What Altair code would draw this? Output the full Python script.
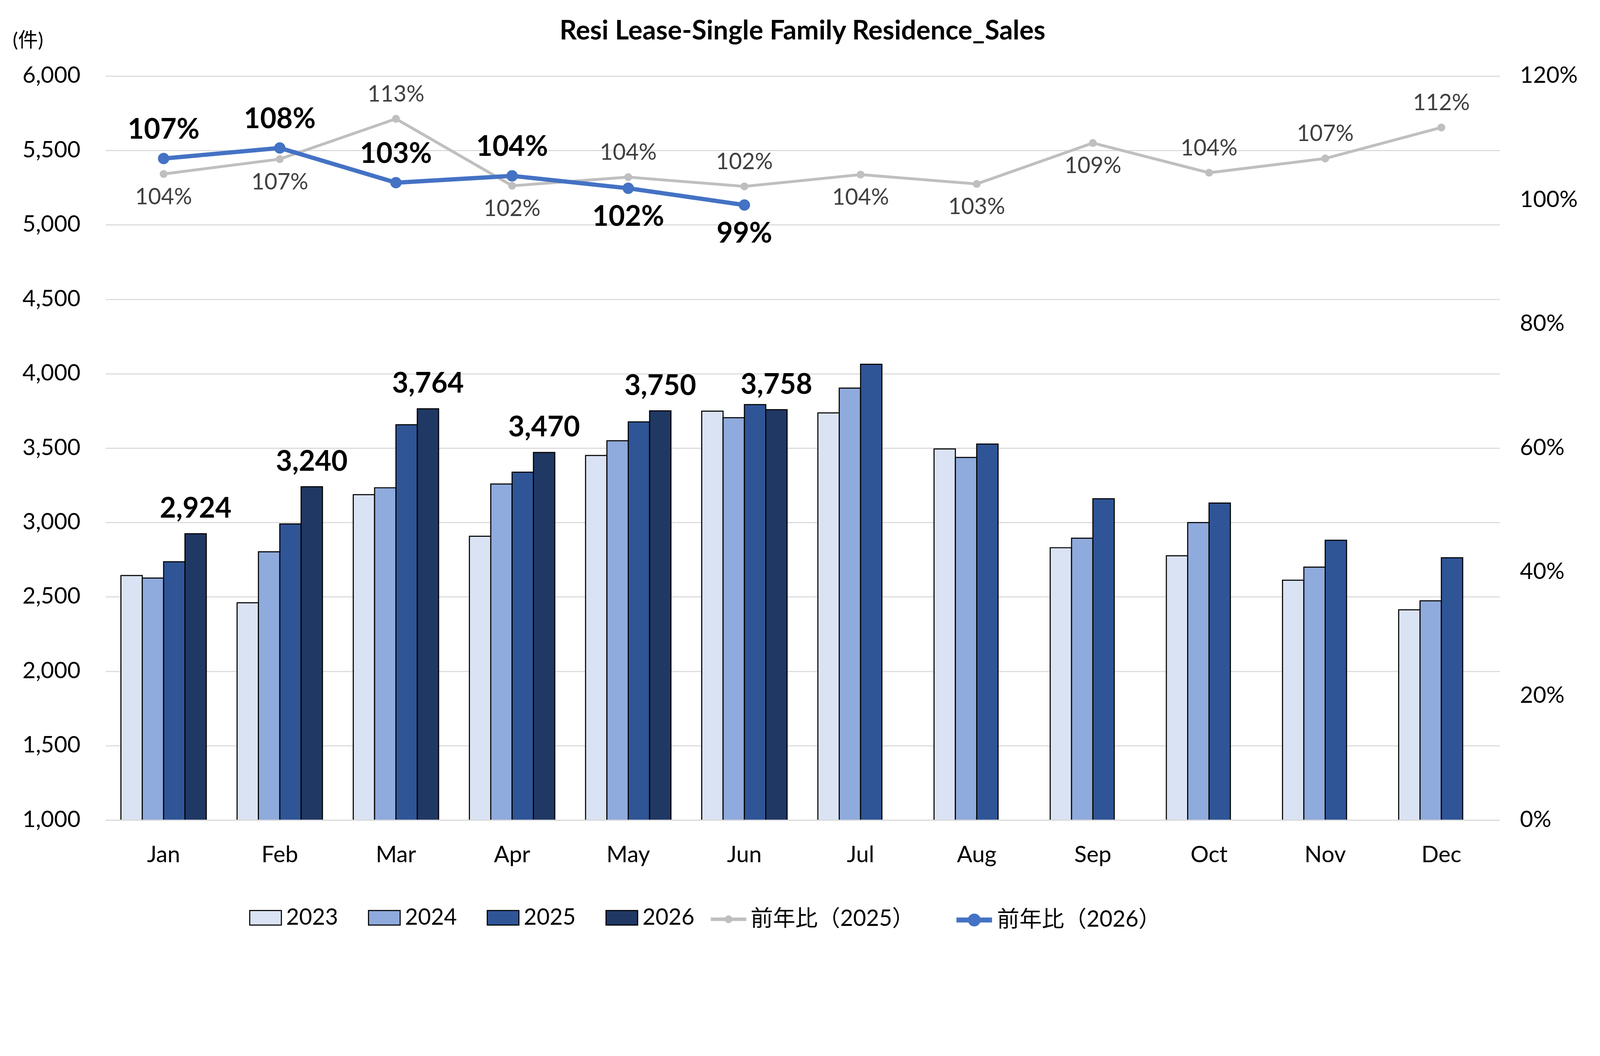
import json

import altair as alt
import pandas as pd

# Values
months = ["Jan", "Feb", "Mar", "Apr", "May", "Jun", "Jul", "Aug", "Sep", "Oct", "Nov", "Dec"]
years = ["2023", "2024", "2025", "2026"]
sales_2023 = [2643, 2460, 3187, 2907, 3450, 3748, 3736, 3494, 2830, 2776, 2612, 2413]
sales_2024 = [2626, 2803, 3233, 3258, 3549, 3704, 3903, 3437, 2894, 2999, 2700, 2473]
sales_2025 = [2736, 2990, 3657, 3338, 3676, 3792, 4063, 3527, 3159, 3130, 2880, 2763]
sales_2026 = [2924, 3240, 3764, 3470, 3750, 3758]
series_names = ["前年比（2025）", "前年比（2026）"]
yoy_2025 = [1.042, 1.066, 1.131, 1.023, 1.037, 1.022, 1.041, 1.026, 1.092, 1.044, 1.067, 1.117]
yoy_2026 = [1.067, 1.084, 1.028, 1.039, 1.019, 0.992]

# which point labels sit above their marker (the rest sit below)
gray_labels_above = ["Mar", "May", "Jun", "Oct", "Nov", "Dec"]
blue_labels_above = ["Jan", "Feb", "Mar", "Apr"]

TITLE = "Resi Lease-Single Family Residence_Sales"
UNIT = "(件)"
FONT = "Lato, 'Noto Sans CJK JP', sans-serif"
BAR_COLORS = ["#DAE3F3", "#8FAADC", "#2F5597", "#203864"]
GRAY, BLUE = "#BFBFBF", "#4472C4"
GRID = "#D9D9D9"
W, H = 3920, 2092

bar_rows = []
for year, vals in zip(years, [sales_2023, sales_2024, sales_2025, sales_2026]):
    for m, v in zip(months, vals):
        bar_rows.append({"month": m, "year": year, "count": v})
bars_df = pd.DataFrame(bar_rows)

line_rows = []
for name, vals in zip(series_names, [yoy_2025, yoy_2026]):
    for i, (m, v) in enumerate(zip(months, vals)):
        line_rows.append({"month": m, "idx": i, "series": name, "pct": v})
lines_df = pd.DataFrame(line_rows)

# shared encodings
x_enc = alt.X(
    "month:N", sort=months, title=None,
    scale=alt.Scale(paddingInner=0.265, paddingOuter=0.1325),
    axis=alt.Axis(labelAngle=0, labelPadding=118, labelBaseline="alphabetic",
                  ticks=False, tickSize=0, domain=True, domainColor=GRID,
                  domainWidth=3, grid=False, zindex=1),
)
x_off = alt.XOffset("year:N", scale=alt.Scale(domain=years, paddingInner=0, paddingOuter=0))
y_cnt = alt.Y(
    "count:Q",
    scale=alt.Scale(domain=[1000, 6000], zero=False, nice=False),
    axis=alt.Axis(values=list(range(1000, 6001, 500)), format=",.0f", grid=True,
                  gridColor=GRID, gridWidth=3, domain=False, ticks=False, tickSize=0,
                  labelPadding=71, labelLimit=400, title=None),
)
y_pct = alt.Y(
    "pct:Q",
    scale=alt.Scale(domain=[0, 1.2], nice=False),
    axis=alt.Axis(orient="right", values=[0, 0.2, 0.4, 0.6, 0.8, 1.0, 1.2], format=".0%",
                  grid=False, domain=False, ticks=False, tickSize=0, labelPadding=57,
                  labelAlign="left", labelLimit=400, title=None),
)

bar_legend = alt.Legend(
    orient="none", legendX=404, legendY=2321, direction="horizontal", title=None,
    symbolType="M-1,-0.46H1V0.46H-1Z", symbolSize=7921, labelOffset=12,
    columnPadding=78, labelFontSize=63, labelLimit=1000, symbolStrokeColor="black",
    symbolStrokeWidth=3, symbolOpacity=1,
)


def line_legend(x, color, r, width):
    path = f"M-1,0H1M{r},0A{r},{r},0,1,1,-{r},0A{r},{r},0,1,1,{r},0"
    return alt.Legend(
        orient="none", legendX=x, legendY=2316, direction="horizontal", title=None,
        symbolType=path, symbolSize=10000, labelOffset=7, labelFontSize=63,
        labelLimit=1000, symbolFillColor=color, symbolStrokeColor=color,
        symbolStrokeWidth=width, symbolOpacity=1,
    )


# bars (left axis)
bars = alt.Chart(bars_df).mark_bar(stroke="black", strokeWidth=3, clip=True).encode(
    x=x_enc, xOffset=x_off, y=y_cnt,
    fill=alt.Fill("year:N", scale=alt.Scale(domain=years, range=BAR_COLORS), legend=bar_legend),
)
bar_labels = (
    alt.Chart(bars_df)
    .transform_filter(alt.datum.year == "2026")
    .mark_text(font=FONT, fontSize=79, fontWeight="bold", color="black",
               baseline="alphabetic", dy=-45)
    .encode(x=x_enc, xOffset=x_off, y=y_cnt, text=alt.Text("count:Q", format=","))
)
# chart title and unit label
title = alt.Chart(pd.DataFrame({"t": [TITLE]})).mark_text(
    font=FONT, fontSize=75, fontWeight="bold", color="black", baseline="alphabetic"
).encode(x=alt.value(W / 2), y=alt.value(-103), text="t:N")
unit = alt.Chart(pd.DataFrame({"t": [UNIT]})).mark_text(
    font=FONT, fontSize=56, color="black", align="left", baseline="middle"
).encode(x=alt.value(-261), y=alt.value(-99), text="t:N")


def series_layers(name, line_channel, color, width, size, above, lab_style, dy_up, dy_down):
    sel = "datum.series === " + json.dumps(name)
    up = f"indexof({json.dumps(above)}, datum.month) >= 0"
    base = alt.Chart(lines_df).transform_filter(sel)
    line = base.mark_line(strokeWidth=width).encode(
        x=x_enc, y=y_pct, order=alt.Order("idx:Q"), **line_channel)
    pts = base.mark_circle(size=size, color=color, opacity=1).encode(x=x_enc, y=y_pct)
    txt = alt.Text("pct:Q", format=".0%")
    lab_up = base.transform_filter(up).mark_text(baseline="middle", dy=dy_up, **lab_style).encode(
        x=x_enc, y=y_pct, text=txt)
    lab_dn = base.transform_filter(f"!({up})").mark_text(baseline="middle", dy=dy_down, **lab_style).encode(
        x=x_enc, y=y_pct, text=txt)
    return [line, pts, lab_up, lab_dn]


# one single-entry legend per ratio series (stroke channel for 2025, color channel for 2026)
gray_channel = {"stroke": alt.Stroke(
    "series:N", scale=alt.Scale(domain=[series_names[0]], range=[GRAY]),
    legend=line_legend(1697, GRAY, 0.12, 10))}
blue_channel = {"color": alt.Color(
    "series:N", scale=alt.Scale(domain=[series_names[1]], range=[BLUE]),
    legend=line_legend(2386, BLUE, 0.22, 14))}

gray_style = dict(font=FONT, fontSize=63, color="#404040")
blue_style = dict(font=FONT, fontSize=79, fontWeight="bold", color="black")
right = alt.layer(
    *series_layers(series_names[0], gray_channel, GRAY, 8, 490, gray_labels_above,
                   gray_style, -68, 66),
    *series_layers(series_names[1], blue_channel, BLUE, 12, 1018, blue_labels_above,
                   blue_style, -80, 82),
)
left = alt.layer(bars, bar_labels, title, unit)

chart = (
    alt.layer(left, right)
    .resolve_scale(y="independent")
    .properties(
        width=W, height=H,
        autosize=alt.AutoSizeParams(type="none"),
        padding={"left": 288, "top": 79, "right": 274, "bottom": 387},
        background="white",
    )
    .configure_view(stroke=None)
    .configure_axis(labelFont=FONT, labelFontSize=64, labelColor="black")
    .configure_legend(labelFont=FONT, labelColor="black", padding=0)
)

chart.save("out.html", embed_options={"renderer": "svg", "actions": False})
